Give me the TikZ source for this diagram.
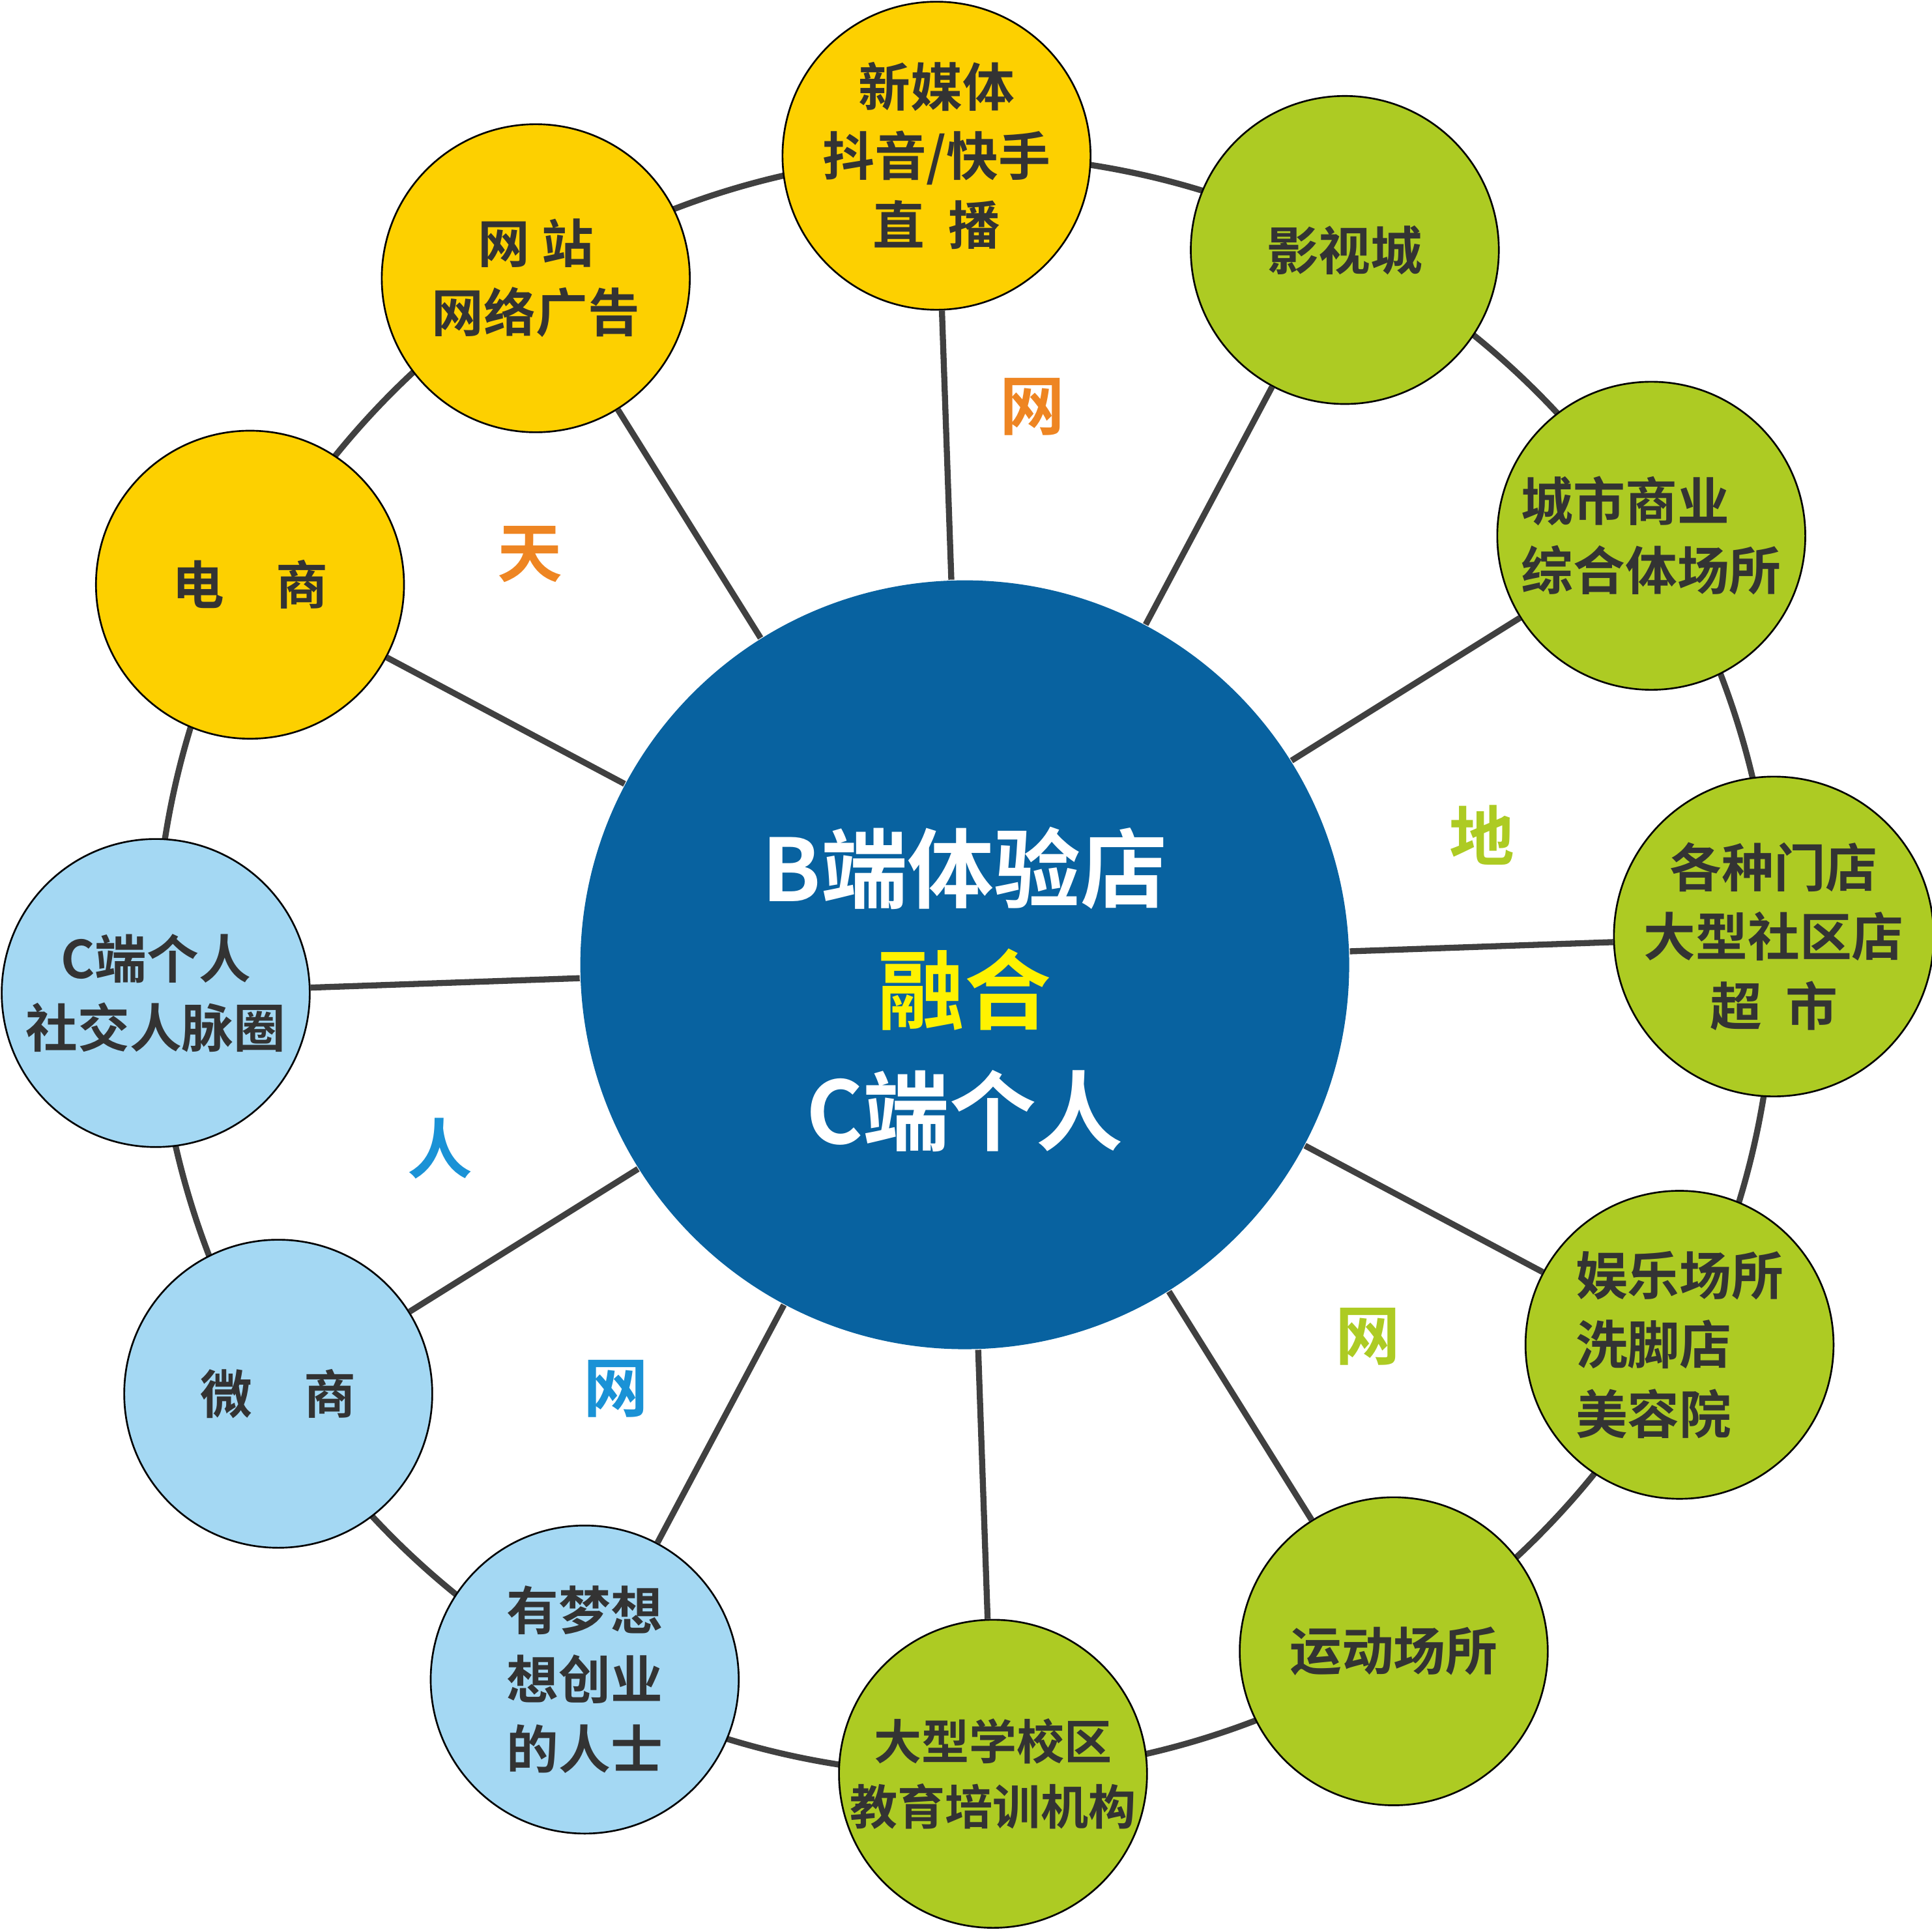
\documentclass[tikz,border=0pt]{standalone}
\usepackage{fontspec}
\setmainfont{Noto Sans CJK SC Bold}
\usetikzlibrary{positioning,backgrounds}
\definecolor{hubblue}{HTML}{0862A0}
\definecolor{skyyellow}{HTML}{FDD000}
\definecolor{landgreen}{HTML}{ADCB23}
\definecolor{peopleblue}{HTML}{A4D8F3}
\definecolor{linegray}{HTML}{404040}
\definecolor{tianorange}{HTML}{EE8522}
\definecolor{renblue}{HTML}{1A92D6}
\definecolor{txtgray}{HTML}{333333}

\begin{document}
\begin{tikzpicture}[
	sat/.style={circle,draw=black,thin,minimum size=2.5cm,inner sep=0pt,align=center,font=\fontsize{12}{16}\selectfont,text=txtgray},
	link/.style={draw=linegray,line width=1.4pt},
	zone/.style={font=\fontsize{15}{15}\selectfont}]
	\useasboundingbox (-7.83,-7.85) rectangle (7.85,7.83);
	\node[circle,fill=hubblue,minimum size=6.24cm,label={[align=center,text=white,font=\fontsize{20}{28}\selectfont,yshift=-0.2cm]center:B端体验店\\\textcolor{yellow}{融合}\\C端个人}] (hub) at (0,0) {};

	\node[sat,fill=skyyellow] (media) at (92:6.57) {新媒体\\抖音/快手\\直\ \ 播};
	\node[sat,fill=landgreen] (film) at (62:6.57) {影视城};
	\node[sat,fill=landgreen,align=left] (mall) at (32:6.57) {城市商业\\综合体场所};
	\node[sat,fill=landgreen] (store) at (2:6.57) {各种门店\\大型社区店\\超\ \ 市};
	\node[sat,fill=landgreen,align=left] (fun) at (-28:6.57) {娱乐场所\\洗脚店\\美容院};
	\node[sat,fill=landgreen] (sport) at (-58:6.57) {运动场所};
	\node[sat,fill=landgreen,font=\fontsize{11}{15}\selectfont] (school) at (-88:6.57) {大型学校区\\教育培训机构};
	\node[sat,fill=peopleblue] (dream) at (-118:6.57) {有梦想\\想创业\\的人士};
	\node[sat,fill=peopleblue] (wechat) at (-148:6.57) {微\quad 商};
	\node[sat,fill=peopleblue] (social) at (-178:6.57) {C端个人\\社交人脉圈};
	\node[sat,fill=skyyellow] (ecom) at (152:6.57) {电\quad 商};
	\node[sat,fill=skyyellow] (web) at (122:6.57) {网\ 站\\网络广告};

	\node[zone,text=tianorange] (tian) at (-3.53,3.33) {天};
	\node[zone,text=tianorange] (wang1) at (0.55,4.53) {网};
	\node[zone,text=landgreen] (di) at (4.2,1.05) {地};
	\node[zone,text=landgreen] (wang2) at (3.27,-3.02) {网};
	\node[zone,text=renblue] (wang3) at (-2.83,-3.44) {网};
	\node[zone,text=renblue] (ren) at (-4.26,-1.49) {人};

	\begin{scope}[on background layer]
		\draw[linegray,line width=1.4pt] (hub.center) circle (6.57);
	\end{scope}
	\foreach \s in {media,film,mall,store,fun,sport,school,dream,wechat,social,ecom,web}
		\draw[link] (hub) -- (\s);
\end{tikzpicture}
\end{document}
